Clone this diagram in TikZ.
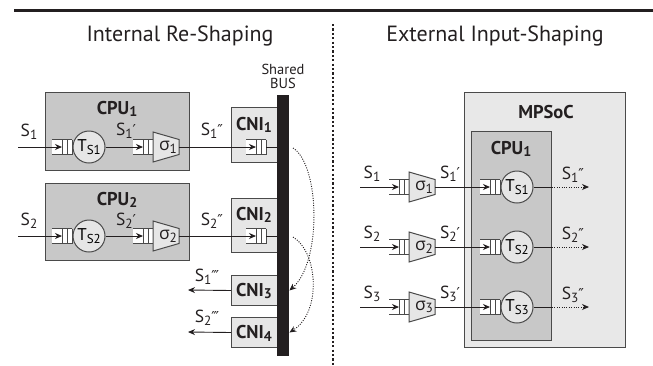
\documentclass[tikz,border=0pt]{standalone}
\usepackage{fontspec}
\setmainfont{PT Sans}
\newfontfamily\dvs{DejaVu Sans}
\newfontfamily\grk{Open Sans}
\usetikzlibrary{arrows.meta}

\definecolor{boxgray}{HTML}{C8C8C8}
\definecolor{palegray}{HTML}{E6E6E6}
\definecolor{socgray}{HTML}{E8E8E8}
\definecolor{edgegray}{HTML}{4A4A4A}
\definecolor{ink}{HTML}{231F20}

% small lowered index and primes
\newcommand\sbs[1]{\raisebox{-0.3ex}{\scalebox{0.76}{#1}}}
\newcommand\pr[1]{{\dvs\fontsize{15}{15}\selectfont\raisebox{0.05ex}{#1}}}

\tikzset{
  cpubox/.style={draw=edgegray, fill=boxgray, line width=1pt, inner sep=0, anchor=north west},
  cnibox/.style={draw=edgegray, fill=palegray, line width=1pt, inner sep=0, anchor=north west},
  socbox/.style={draw=edgegray, fill=socgray, line width=1pt, inner sep=0, anchor=north west},
  task/.style={circle, draw=edgegray, fill=palegray, line width=1pt, minimum size=32pt, inner sep=0, font=\fontsize{17}{19}\selectfont},
  arr/.style={-{Stealth[length=7pt,width=6pt]}, line width=0.9pt, draw=ink},
  dotarr/.style={arr, dash pattern=on 1pt off 1.4pt},
  plain/.style={line width=0.9pt, draw=ink},
  qline/.style={line width=1pt, draw=edgegray},
  lbl/.style={inner sep=0, font=\fontsize{17.5}{19}\selectfont, text=ink},
  boldlbl/.style={inner sep=0, font=\bfseries\fontsize{18.5}{20}\selectfont, text=ink},
  ttl/.style={inner sep=0, font=\fontsize{22}{26}\selectfont, text=ink},
  queue/.pic={
    \fill[white] (0,-7.5) rectangle (20,7.5);
    \node[inner sep=0, minimum width=20pt, minimum height=15pt] (-box) at (10,0) {};
    \draw[qline] (0,-7.5) -- (20,-7.5) (0,7.5) -- (20,7.5)
      (10,-7.5) -- (10,7.5) (15,-7.5) -- (15,7.5) (20,-7.5) -- (20,7.5);
    \coordinate (-in) at (10,0);
    \coordinate (-out) at (20,0);
  },
  shaper/.pic={
    \draw[qline, fill=palegray] (0,-15) -- (26,-7.5) -- (26,7.5) -- (0,15) -- cycle;
    \node[lbl] (-txt) at (15,0) {{\grk σ}\sbs{#1}};
    \coordinate (-out) at (26,0);
  }
}

\begin{document}
\begin{tikzpicture}[x=1pt, y=-1pt]
\useasboundingbox (0,0) rectangle (653,365);

% heading rule, titles and divider
\draw[line width=3pt, ink] (14,10.5) -- (653,10.5);
\node[ttl] (tleft) at (180,36) {Internal Re-Shaping};
\node[ttl] (tright) at (495,36) {External Input-Shaping};
\draw[line width=1.8pt, ink, dash pattern=on 2.2pt off 2.2pt] (333,24) -- (333,365);

% ---------------- internal re-shaping ----------------
\node[cpubox, minimum width=144pt, minimum height=78pt] (cpu1) at (45,92) {};
\node[cpubox, minimum width=144pt, minimum height=77pt] (cpu2) at (45,183) {};
\node[boldlbl] (cpu1lab) at (117,109) {CPU\sbs{1}};
\node[boldlbl] (cpu2lab) at (117,200) {CPU\sbs{2}};

\node[cnibox, minimum width=46pt, minimum height=55pt] (cni1) at (231,107) {};
\node[cnibox, minimum width=46pt, minimum height=54pt] (cni2) at (231,198) {};
\node[cnibox, minimum width=46pt, minimum height=30pt] (cni3) at (231,275) {};
\node[cnibox, minimum width=46pt, minimum height=30pt] (cni4) at (231,317) {};
\node[boldlbl] (cni1lab) at (254,125) {CNI\sbs{1}};
\node[boldlbl] (cni2lab) at (254,215) {CNI\sbs{2}};
\node[boldlbl] (cni3lab) at (254,291) {CNI\sbs{3}};
\node[boldlbl] (cni4lab) at (254,333) {CNI\sbs{4}};

\node[fill=ink, draw=ink, inner sep=0, minimum width=11pt, minimum height=260pt, anchor=north west] (bus) at (277,95) {};
\node[inner sep=0, font=\fontsize{14.5}{15}\selectfont, text=ink, align=center] (buslab) at (283,76) {Shared\\[-1pt]BUS};

% stream 1
\coordinate (s1src) at (18,147);
\pic (q1a) at (52,147) {queue};
\node[task] (t1) at (89,147) {T\sbs{S1}};
\pic (q1b) at (133,147) {queue};
\pic (sh1) at (153,147) {shaper=1};
\pic (q1c) at (246,147) {queue};
\draw[arr] (s1src) -- (q1a-in);
\draw[arr] (t1) -- (q1b-in);
\draw[arr] (sh1-out) -- (q1c-in);
\draw[plain] (q1c-out) -- (q1c-out -| bus.west);
\node[lbl] (l1a) at (29,132) {S\sbs{1}};
\node[lbl] (l1b) at (126,131) {S\sbs{1}\pr{′}};
\node[lbl] (l1c) at (212,131) {S\sbs{1}\pr{″}};

% stream 2
\coordinate (s2src) at (18,236);
\pic (q2a) at (52,236) {queue};
\node[task] (t2) at (89,236) {T\sbs{S2}};
\pic (q2b) at (133,236) {queue};
\pic (sh2) at (153,236) {shaper=2};
\pic (q2c) at (246,236) {queue};
\draw[arr] (s2src) -- (q2a-in);
\draw[arr] (t2) -- (q2b-in);
\draw[arr] (sh2-out) -- (q2c-in);
\draw[plain] (q2c-out) -- (q2c-out -| bus.west);
\node[lbl] (l2a) at (29,221) {S\sbs{2}};
\node[lbl] (l2b) at (126,221) {S\sbs{2}\pr{′}};
\node[lbl] (l2c) at (212,221) {S\sbs{2}\pr{″}};

% delivery over the bus
\coordinate (o1) at (188,290);
\coordinate (o2) at (188,332);
\draw[arr] (cni3.west) -- (o1);
\draw[arr] (cni4.west) -- (o2);
\node[lbl] (l1d) at (207,277) {S\sbs{1}\pr{‴}};
\node[lbl] (l2d) at (207,318) {S\sbs{2}\pr{‴}};

\coordinate (b1) at (293,148);
\coordinate (b2) at (293,237);
\draw[dotarr] (b1) .. controls (320,165) and (322,262) .. ([xshift=1pt]bus.east |- cni3.east);
\draw[dotarr] (b2) .. controls (318,252) and (322,312) .. ([xshift=1pt]bus.east |- cni4.east);

% ---------------- external input-shaping ----------------
\node[socbox, minimum width=161pt, minimum height=255pt] (soc) at (464,92) {};
\node[boldlbl] (soclab) at (546,112) {MPSoC};
\node[cpubox, minimum width=80pt, minimum height=209pt] (cpur) at (471,131) {};
\node[boldlbl] (cpurlab) at (511,149) {CPU\sbs{1}};

\foreach \k/\y in {1/187, 2/247, 3/307}{
  \coordinate (r\k src) at (360,\y);
  \pic (rq\k a) at (389,\y) {queue};
  \pic (rsh\k) at (409,\y) {shaper=\k};
  \pic (rq\k b) at (480,\y) {queue};
  \node[task] (rt\k) at (517,\y) {T\sbs{S\k}};
  \coordinate (ro\k) at (589,\y);
  \draw[arr] (r\k src) -- (rq\k a-in);
  \draw[arr] (rsh\k-out) -- (rq\k b-in);
  \draw[plain] (rt\k) -- (rt\k -| cpur.east);
  \draw[dotarr] (rt\k -| cpur.east) -- (ro\k);
  \node[lbl] (rl\k a) at (372,\y-13) {S\sbs{\k}};
  \node[lbl] (rl\k b) at (450,\y-13) {S\sbs{\k}\pr{′}};
  \node[lbl] (rl\k c) at (573,\y-12) {S\sbs{\k}\pr{″}};
}
\end{tikzpicture}
\end{document}
